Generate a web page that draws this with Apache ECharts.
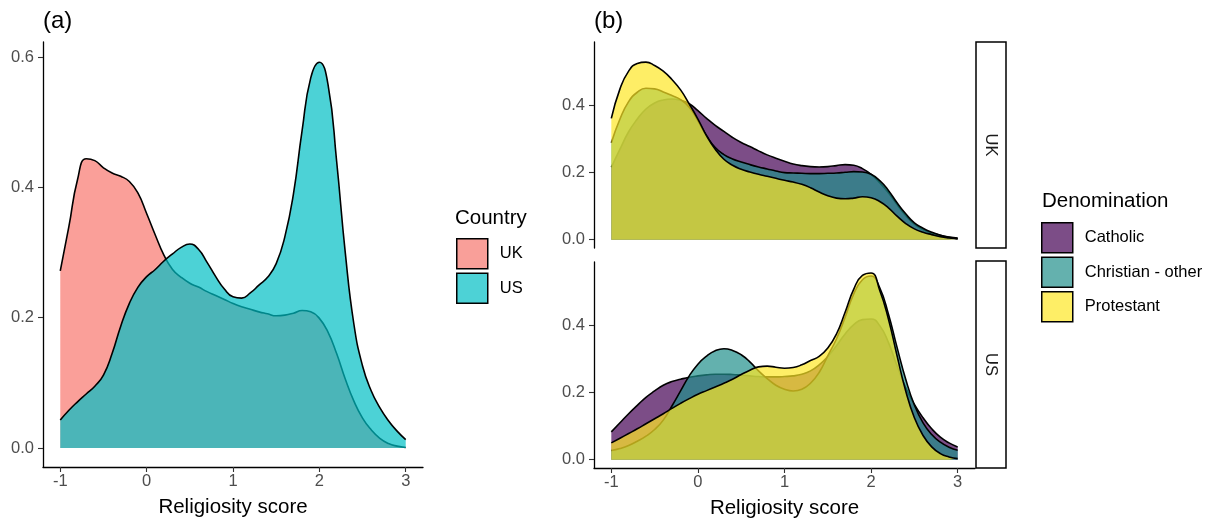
<!DOCTYPE html>
<html>
<head>
<meta charset="utf-8">
<script src="https://cdn.jsdelivr.net/npm/echarts@6/dist/echarts.min.js"></script>
<style>html,body{margin:0;padding:0;background:#fff;}#chart{width:1211px;height:523px;}</style>
</head>
<body>
<div id="chart"></div>
<script>
// ---- data ----
const xs = [-1.0,-0.9,-0.8,-0.7,-0.6,-0.5,-0.4,-0.3,-0.2,-0.1,0.0,0.1,0.2,0.3,0.4,0.5,0.6,0.7,0.8,0.9,1.0,1.1,1.2,1.3,1.4,1.5,1.6,1.7,1.8,1.9,2.0,2.1,2.2,2.3,2.4,2.5,2.6,2.7,2.8,2.9,3.0];
const xTicks = [-1, 0, 1, 2, 3];
const yTicksA = [0, 0.2, 0.4, 0.6];
const yTicksB = [0, 0.2, 0.4];
const countries = ['UK', 'US'];
const denominations = ['Catholic', 'Christian - other', 'Protestant'];

// panel (a): density by country
const ukAll = [0.272,0.34,0.412,0.444,0.441,0.43,0.422,0.417,0.409,0.391,0.36,0.327,0.296,0.274,0.262,0.253,0.247,0.24,0.234,0.228,0.222,0.217,0.213,0.209,0.206,0.203,0.204,0.207,0.211,0.209,0.199,0.178,0.145,0.106,0.072,0.046,0.028,0.015,0.007,0.003,0.001];
const usAll = [0.043,0.058,0.071,0.083,0.095,0.112,0.145,0.187,0.222,0.247,0.263,0.274,0.287,0.298,0.308,0.313,0.305,0.285,0.263,0.244,0.232,0.23,0.238,0.25,0.262,0.283,0.324,0.39,0.487,0.568,0.592,0.558,0.44,0.3,0.19,0.126,0.088,0.062,0.042,0.026,0.013];

// panel (b): density by denomination, UK facet
const ukCatholic = [0.216,0.27,0.322,0.36,0.39,0.408,0.417,0.42,0.416,0.406,0.385,0.362,0.341,0.323,0.305,0.29,0.278,0.265,0.253,0.243,0.234,0.226,0.221,0.218,0.217,0.218,0.221,0.224,0.222,0.212,0.195,0.17,0.14,0.105,0.072,0.046,0.03,0.02,0.013,0.008,0.005];
const ukOther = [0.289,0.36,0.412,0.44,0.452,0.45,0.441,0.43,0.418,0.395,0.355,0.31,0.275,0.254,0.241,0.232,0.224,0.217,0.211,0.205,0.2,0.199,0.198,0.197,0.197,0.198,0.199,0.201,0.203,0.202,0.195,0.176,0.147,0.11,0.077,0.05,0.034,0.022,0.013,0.007,0.003];
const ukProtestant = [0.362,0.45,0.503,0.526,0.53,0.52,0.503,0.478,0.447,0.405,0.36,0.31,0.27,0.24,0.222,0.21,0.202,0.195,0.189,0.183,0.177,0.172,0.165,0.155,0.142,0.131,0.124,0.122,0.124,0.128,0.125,0.114,0.095,0.07,0.048,0.032,0.022,0.015,0.009,0.005,0.002];
// US facet
const usCatholic = [0.083,0.11,0.137,0.162,0.186,0.205,0.222,0.233,0.24,0.246,0.25,0.253,0.255,0.255,0.254,0.252,0.25,0.248,0.247,0.247,0.248,0.25,0.255,0.265,0.283,0.308,0.34,0.375,0.403,0.418,0.42,0.4,0.35,0.28,0.215,0.165,0.125,0.092,0.067,0.05,0.038];
const usOther = [0.027,0.033,0.042,0.055,0.07,0.09,0.118,0.16,0.205,0.25,0.285,0.309,0.325,0.331,0.326,0.313,0.292,0.265,0.242,0.222,0.21,0.205,0.21,0.228,0.26,0.31,0.36,0.425,0.495,0.537,0.548,0.513,0.435,0.335,0.24,0.163,0.11,0.075,0.052,0.037,0.028];
const usProtestant = [0.05,0.064,0.078,0.092,0.107,0.122,0.137,0.153,0.168,0.182,0.195,0.206,0.217,0.228,0.24,0.254,0.267,0.277,0.279,0.276,0.273,0.275,0.283,0.296,0.308,0.333,0.375,0.44,0.509,0.55,0.557,0.505,0.42,0.31,0.205,0.125,0.072,0.038,0.018,0.008,0.003];

// ---- styling ----
const FONT = 'Liberation Sans';
const fillCountry = {UK: 'rgba(248,118,109,0.7)', US: 'rgba(0,191,196,0.7)'};
const keyCountry = {UK: '#F99F99', US: '#4DD2D6'};
const fillDen = {'Catholic': 'rgba(68,1,84,0.7)', 'Christian - other': 'rgba(33,144,140,0.7)', 'Protestant': 'rgba(253,231,37,0.7)'};
const keyDen = {'Catholic': '#7C4D87', 'Christian - other': '#64B1AE', 'Protestant': '#FEEE66'};

function pts(ys) { return xs.map((x, i) => [x, ys[i]]); }
function dens(name, ys, fill, idx, order) {
  return {
    type: 'line', name: name, data: pts(ys), xAxisIndex: idx, yAxisIndex: idx,
    z: 2 + order,
    smooth: 0.5, showSymbol: false, symbol: 'none',
    lineStyle: {color: '#000', width: 1.6},
    itemStyle: {color: '#000'},
    areaStyle: {color: fill, opacity: 1},
    emphasis: {disabled: true}, silent: true
  };
}
function xAx(idx, showLabels) {
  return {
    type: 'value', gridIndex: idx, min: -1.2, max: 3.2,
    axisLine: {show: showLabels, onZero: false, lineStyle: {color: '#000', width: 1.3}},
    axisTick: {show: showLabels, customValues: xTicks, length: 5, lineStyle: {color: '#333', width: 1.1}},
    axisLabel: {show: showLabels, customValues: xTicks, margin: 6, color: '#4D4D4D', fontSize: 16.5, fontFamily: FONT},
    splitLine: {show: false},
    name: showLabels ? 'Religiosity score' : '', nameLocation: 'middle', nameGap: 30,
    nameTextStyle: {color: '#000', fontSize: 20.5, fontFamily: FONT}
  };
}
function yAx(idx, mn, mx, ticks) {
  return {
    type: 'value', gridIndex: idx, min: mn, max: mx,
    axisLine: {show: true, onZero: false, lineStyle: {color: '#000', width: 1.3}},
    axisTick: {show: true, customValues: ticks, length: 5, lineStyle: {color: '#333', width: 1.1}},
    axisLabel: {customValues: ticks, margin: 9, color: '#4D4D4D', fontSize: 16.5, fontFamily: FONT,
      formatter: v => Number(v).toFixed(1)},
    splitLine: {show: false}
  };
}
function txt(t, x, y, size, extra) {
  return Object.assign({type: 'text', x: x, y: y, silent: true,
    style: {text: t, fontSize: size, fontFamily: FONT, fill: '#000', align: 'left', verticalAlign: 'middle'}}, extra || {});
}

const series = [
  dens('UK', ukAll, fillCountry.UK, 0, 0),
  dens('US', usAll, fillCountry.US, 0, 1),
  dens('Catholic', ukCatholic, fillDen['Catholic'], 1, 0),
  dens('Christian - other', ukOther, fillDen['Christian - other'], 1, 1),
  dens('Protestant', ukProtestant, fillDen['Protestant'], 1, 2),
  dens('Catholic', usCatholic, fillDen['Catholic'], 2, 0),
  dens('Christian - other', usOther, fillDen['Christian - other'], 2, 1),
  dens('Protestant', usProtestant, fillDen['Protestant'], 2, 2)
];

const chart = echarts.init(document.getElementById('chart'), null, {renderer: 'canvas'});
chart.setOption({
  animation: false,
  backgroundColor: '#fff',
  textStyle: {fontFamily: FONT},
  grid: [
    {left: 43, top: 42, width: 380, height: 426},
    {left: 594, top: 42, width: 381, height: 206},
    {left: 594, top: 262, width: 381, height: 206}
  ],
  xAxis: [xAx(0, true), xAx(1, false), xAx(2, true)],
  yAxis: [yAx(0, -0.029, 0.623, yTicksA), yAx(1, -0.025, 0.59, yTicksB), yAx(2, -0.025, 0.59, yTicksB)],
  legend: [
    {
      data: countries.map(c => ({name: c, itemStyle: {color: keyCountry[c], borderColor: '#000', borderWidth: 1.5}})),
      left: 456, top: 238, orient: 'vertical', icon: 'rect', itemWidth: 31, itemHeight: 30, itemGap: 3,
      padding: 0, selectedMode: false, z: 10,
      textStyle: {fontSize: 16.5, color: '#000', fontFamily: FONT, padding: [0, 0, 0, 7]}
    },
    {
      data: denominations.map(d => ({name: d, itemStyle: {color: keyDen[d], borderColor: '#000', borderWidth: 1.5}})),
      left: 1041, top: 222, orient: 'vertical', icon: 'rect', itemWidth: 31, itemHeight: 30, itemGap: 3,
      padding: 0, selectedMode: false, z: 10,
      textStyle: {fontSize: 16.5, color: '#000', fontFamily: FONT, padding: [0, 0, 0, 7]}
    }
  ],
  graphic: [
    txt('(a)', 43, 21, 24),
    txt('(b)', 594, 21, 24),
    txt('Country', 455, 218, 20.5),
    txt('Denomination', 1042, 201, 20.5),
    {type: 'rect', shape: {x: 976, y: 42, width: 30, height: 206}, style: {fill: '#fff', stroke: '#000', lineWidth: 1.5}, silent: true},
    {type: 'rect', shape: {x: 976, y: 261, width: 30, height: 207}, style: {fill: '#fff', stroke: '#000', lineWidth: 1.5}, silent: true},
    txt(countries[0], 991, 145, 16.5, {rotation: -Math.PI / 2, style: {text: countries[0], fontSize: 16.5, fontFamily: FONT, fill: '#1A1A1A', align: 'center', verticalAlign: 'middle'}}),
    txt(countries[1], 991, 364.5, 16.5, {rotation: -Math.PI / 2, style: {text: countries[1], fontSize: 16.5, fontFamily: FONT, fill: '#1A1A1A', align: 'center', verticalAlign: 'middle'}})
  ],
  series: series
});
</script>
</body>
</html>
